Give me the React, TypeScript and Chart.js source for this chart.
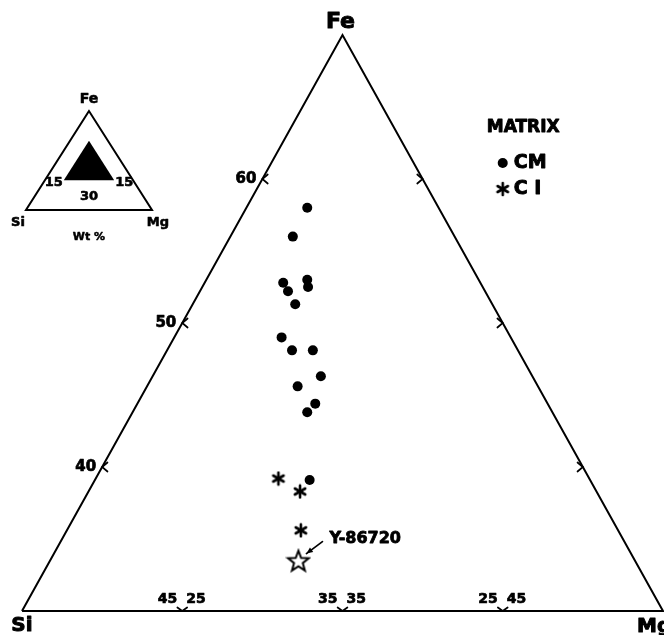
import React, { useEffect, useRef } from "react";
import { Chart, registerables } from "chart.js";

Chart.register(...registerables);

// Ternary window shown: Fe >= 30, Si >= 15, Mg >= 15 (wt %)
const FE_MIN = 30;
const SI_MIN = 15;
const MG_MIN = 15;
const SPAN = 40;

// CM matrix analyses (wt %)
const cmFe = [58.0, 56.0, 52.8, 53.0, 52.2, 52.5, 51.3, 49.0, 48.1, 48.1, 46.3, 45.6, 44.4, 43.8, 39.1];
const cmMg = [18.8, 18.9, 19.9, 21.3, 20.5, 21.6, 21.4, 21.7, 22.8, 24.1, 25.5, 24.4, 26.1, 25.9, 28.4];
const cmSi = [23.2, 25.1, 27.3, 25.7, 27.3, 25.9, 27.3, 29.3, 29.1, 27.8, 28.2, 30.0, 29.5, 30.3, 32.5];

// CI matrix analyses
const ciFe = [39.2, 38.3, 35.6];
const ciMg = [26.4, 28.2, 29.6];
const ciSi = [34.4, 33.5, 34.8];

// Y-86720
const yFe = [33.5];
const yMg = [30.5];
const ySi = [36.0];
const yLabel = "Y-86720";

// Tick labels
const sideTicks = [40, 50, 60];
const baseTicks: [number, number][] = [[45, 25], [35, 35], [25, 45]];

const FONT = '"DejaVu Sans", "Liberation Sans", Arial, sans-serif';

function toXY(si: number, mg: number, fe: number) {
  const a = (fe - FE_MIN) / SPAN;
  const b = (mg - MG_MIN) / SPAN;
  return { x: b + a / 2, y: a };
}

function series(si: number[], mg: number[], fe: number[]) {
  return fe.map((f, i) => toXY(si[i], mg[i], f));
}

function makeAsterisk(): HTMLCanvasElement {
  const c = document.createElement("canvas");
  c.width = 16; c.height = 16;
  const g = c.getContext("2d")!;
  g.strokeStyle = "#000"; g.lineWidth = 2.6; g.lineCap = "round";
  const r = 6;
  [90, 30, 150].forEach((deg) => {
    const t = (deg * Math.PI) / 180;
    g.beginPath();
    g.moveTo(8 - r * Math.cos(t), 8 - r * Math.sin(t));
    g.lineTo(8 + r * Math.cos(t), 8 + r * Math.sin(t));
    g.stroke();
  });
  return c;
}

function makeStar(): HTMLCanvasElement {
  const c = document.createElement("canvas");
  c.width = 26; c.height = 26;
  const g = c.getContext("2d")!;
  g.strokeStyle = "#000"; g.fillStyle = "#fff"; g.lineWidth = 2; g.lineJoin = "miter";
  const R = 11, r = 4.6, cx = 13, cy = 14;
  g.beginPath();
  for (let i = 0; i < 10; i++) {
    const rad = i % 2 === 0 ? R : r;
    const t = -Math.PI / 2 + (i * Math.PI) / 5;
    const x = cx + rad * Math.cos(t), y = cy + rad * Math.sin(t);
    if (i === 0) g.moveTo(x, y); else g.lineTo(x, y);
  }
  g.closePath(); g.fill(); g.stroke();
  return c;
}

export default function App() {
  const ref = useRef<HTMLCanvasElement | null>(null);

  useEffect(() => {
    document.body.style.margin = "0";
    const canvas = ref.current!;
    const asterisk = makeAsterisk();
    const star = makeStar();

    const outline = [
      toXY(100 - FE_MIN - MG_MIN, MG_MIN, FE_MIN),
      toXY(SI_MIN, MG_MIN, 100 - SI_MIN - MG_MIN),
      toXY(SI_MIN, 100 - FE_MIN - SI_MIN, FE_MIN),
      toXY(100 - FE_MIN - MG_MIN, MG_MIN, FE_MIN),
    ];

    const decor = {
      id: "ternaryDecor",
      afterDatasetsDraw(chart: any) {
        const ctx: CanvasRenderingContext2D = chart.ctx;
        const xs = chart.scales.x, ys = chart.scales.y;
        const P = (si: number, mg: number, fe: number) => {
          const d = toXY(si, mg, fe);
          return [xs.getPixelForValue(d.x), ys.getPixelForValue(d.y)];
        };
        const D = (x: number, y: number) => [xs.getPixelForValue(x), ys.getPixelForValue(y)];
        ctx.save();
        ctx.strokeStyle = "#000";
        ctx.fillStyle = "#000";
        ctx.lineCap = "round";

        const text = (t: string, x: number, y: number, w = 0.7) => {
          ctx.fillText(t, x, y);
          ctx.save();
          ctx.lineWidth = w;
          ctx.lineJoin = "round";
          ctx.strokeText(t, x, y);
          ctx.restore();
        };

        const chevron = (x: number, y: number, dir: number, spread = 0.7, len = 7) => {
          ctx.lineWidth = 1.7;
          ctx.beginPath();
          ctx.moveTo(x + len * Math.cos(dir - spread), y + len * Math.sin(dir - spread));
          ctx.lineTo(x, y);
          ctx.lineTo(x + len * Math.cos(dir + spread), y + len * Math.sin(dir + spread));
          ctx.stroke();
        };

        // left side ticks (Mg = 15)
        ctx.font = `bold 15px ${FONT}`;
        ctx.textBaseline = "middle";
        sideTicks.forEach((fe) => {
          const [x, y] = P(100 - fe - MG_MIN, MG_MIN, fe);
          chevron(x, y, 0);
          ctx.textAlign = "right";
          text(String(fe), x - 6, y);
        });
        // right side ticks (Si = 15)
        sideTicks.forEach((fe) => {
          const [x, y] = P(SI_MIN, 100 - fe - SI_MIN, fe);
          chevron(x, y, Math.PI);
        });
        // base ticks
        ctx.font = `bold 14px ${FONT}`;
        baseTicks.forEach(([si, mg]) => {
          const [x, y] = P(si, mg, FE_MIN);
          chevron(x, y, -Math.PI / 2, 0.95, 6);
          ctx.textAlign = "right";
          text(String(si), x - 5, y - 12);
          ctx.textAlign = "left";
          text(String(mg), x + 4, y - 12);
        });

        // vertex labels
        const [fx, fy] = P(SI_MIN, MG_MIN, 100 - SI_MIN - MG_MIN);
        const [sx, sy] = P(100 - FE_MIN - MG_MIN, MG_MIN, FE_MIN);
        const [mx, my] = P(SI_MIN, 100 - FE_MIN - SI_MIN, FE_MIN);
        ctx.font = `bold 22px ${FONT}`;
        ctx.textAlign = "center";
        text("Fe", fx - 2, fy - 13, 1);
        ctx.font = `bold 20px ${FONT}`;
        text("Si", sx, sy + 15, 1);
        ctx.textAlign = "left";
        text("Mg", mx - 26, my + 16, 1);

        // legend
        const [lx, ly] = D(0.725, 0.8385);
        ctx.font = `bold 17px ${FONT}`;
        ctx.textAlign = "left";
        text("MATRIX", lx, ly, 0.9);
        ctx.beginPath();
        ctx.arc(lx + 16, ly + 35, 5, 0, Math.PI * 2);
        ctx.fill();
        ctx.font = `bold 19px ${FONT}`;
        text("CM", lx + 27, ly + 35, 0.9);
        ctx.drawImage(asterisk, lx + 16 - 8, ly + 61 - 8);
        text("C I", lx + 27, ly + 61, 0.9);

        // Y-86720 annotation
        const [yx, yy] = P(ySi[0], yMg[0], yFe[0]);
        ctx.font = `bold 16px ${FONT}`;
        text(yLabel, yx + 31, yy - 22, 0.8);
        ctx.lineWidth = 1.7;
        const ax0 = yx + 24, ay0 = yy - 19, ax1 = yx + 8, ay1 = yy - 7;
        ctx.beginPath(); ctx.moveTo(ax0, ay0); ctx.lineTo(ax1, ay1); ctx.stroke();
        const ang = Math.atan2(ay1 - ay0, ax1 - ax0);
        ctx.beginPath();
        ctx.moveTo(ax1, ay1);
        ctx.lineTo(ax1 - 7 * Math.cos(ang - 0.4), ay1 - 7 * Math.sin(ang - 0.4));
        ctx.lineTo(ax1 - 7 * Math.cos(ang + 0.4), ay1 - 7 * Math.sin(ang + 0.4));
        ctx.closePath(); ctx.fill();

        // inset: full ternary diagram with the plotted window filled
        const [ix0, iy0] = D(0.0062, 0.6962);
        const [ix1] = D(0.2028, 0.6962);
        const [, iyTop] = D(0.1, 0.868);
        const IW = ix1 - ix0, IH = iy0 - iyTop;
        const Q = (si: number, mg: number, fe: number) => {
          const t = si + mg + fe;
          const f = fe / t, m = mg / t;
          return [ix0 + (m + f / 2) * IW, iy0 - f * IH];
        };
        ctx.lineWidth = 2;
        ctx.lineJoin = "miter";
        const A = Q(0, 0, 100), B = Q(100, 0, 0), C = Q(0, 100, 0);
        ctx.beginPath(); ctx.moveTo(A[0], A[1]); ctx.lineTo(B[0], B[1]); ctx.lineTo(C[0], C[1]); ctx.closePath(); ctx.stroke();
        const a2 = Q(SI_MIN, MG_MIN, 100 - SI_MIN - MG_MIN);
        const b2 = Q(100 - FE_MIN - MG_MIN, MG_MIN, FE_MIN);
        const c2 = Q(SI_MIN, 100 - FE_MIN - SI_MIN, FE_MIN);
        ctx.beginPath(); ctx.moveTo(a2[0], a2[1]); ctx.lineTo(b2[0], b2[1]); ctx.lineTo(c2[0], c2[1]); ctx.closePath(); ctx.fill();
        ctx.font = `bold 13px ${FONT}`;
        ctx.textAlign = "right";
        text(String(MG_MIN), b2[0] - 1, b2[1] + 2, 0.6);
        ctx.textAlign = "left";
        text(String(SI_MIN), c2[0] + 1, c2[1] + 2, 0.6);
        ctx.textAlign = "center";
        text(String(FE_MIN), (b2[0] + c2[0]) / 2, iy0 - 13, 0.6);
        ctx.font = `bold 14px ${FONT}`;
        text("Fe", A[0], A[1] - 12, 0.6);
        ctx.font = `bold 13px ${FONT}`;
        text("Si", B[0] - 8, B[1] + 13, 0.6);
        text("Mg", C[0] + 6, C[1] + 13, 0.6);
        ctx.font = `bold 11px ${FONT}`;
        text("Wt %", (B[0] + C[0]) / 2, B[1] + 27, 0.5);

        ctx.restore();
      },
    };

    const chart = new Chart(canvas, {
      type: "scatter",
      data: {
        datasets: [
          {
            label: "outline",
            data: outline,
            showLine: true,
            borderColor: "#000",
            borderWidth: 2,
            pointRadius: 0,
            fill: false,
            clip: false,
          } as any,
          {
            label: "CM",
            data: series(cmSi, cmMg, cmFe),
            pointStyle: "circle",
            pointRadius: 5,
            backgroundColor: "#000",
            borderWidth: 0,
            clip: false,
          },
          {
            label: "CI",
            data: series(ciSi, ciMg, ciFe),
            pointStyle: asterisk as any,
            pointRadius: 8,
            clip: false,
          },
          {
            label: yLabel,
            data: series(ySi, yMg, yFe),
            pointStyle: star as any,
            pointRadius: 12,
            clip: false,
          },
        ],
      },
      options: {
        responsive: false,
        animation: false,
        layout: { autoPadding: false, padding: { left: 22, right: 1, top: 35, bottom: 24 } },
        scales: {
          x: { type: "linear", min: 0, max: 1, display: false },
          y: { type: "linear", min: 0, max: 1, display: false },
        },
        plugins: { legend: { display: false }, tooltip: { enabled: false } },
      } as any,
      plugins: [decor],
    });
    return () => chart.destroy();
  }, []);

  return (
    <canvas
      ref={ref}
      width={664}
      height={635}
      style={{ display: "block", position: "absolute", left: 0, top: 0, background: "#fff" }}
    />
  );
}
